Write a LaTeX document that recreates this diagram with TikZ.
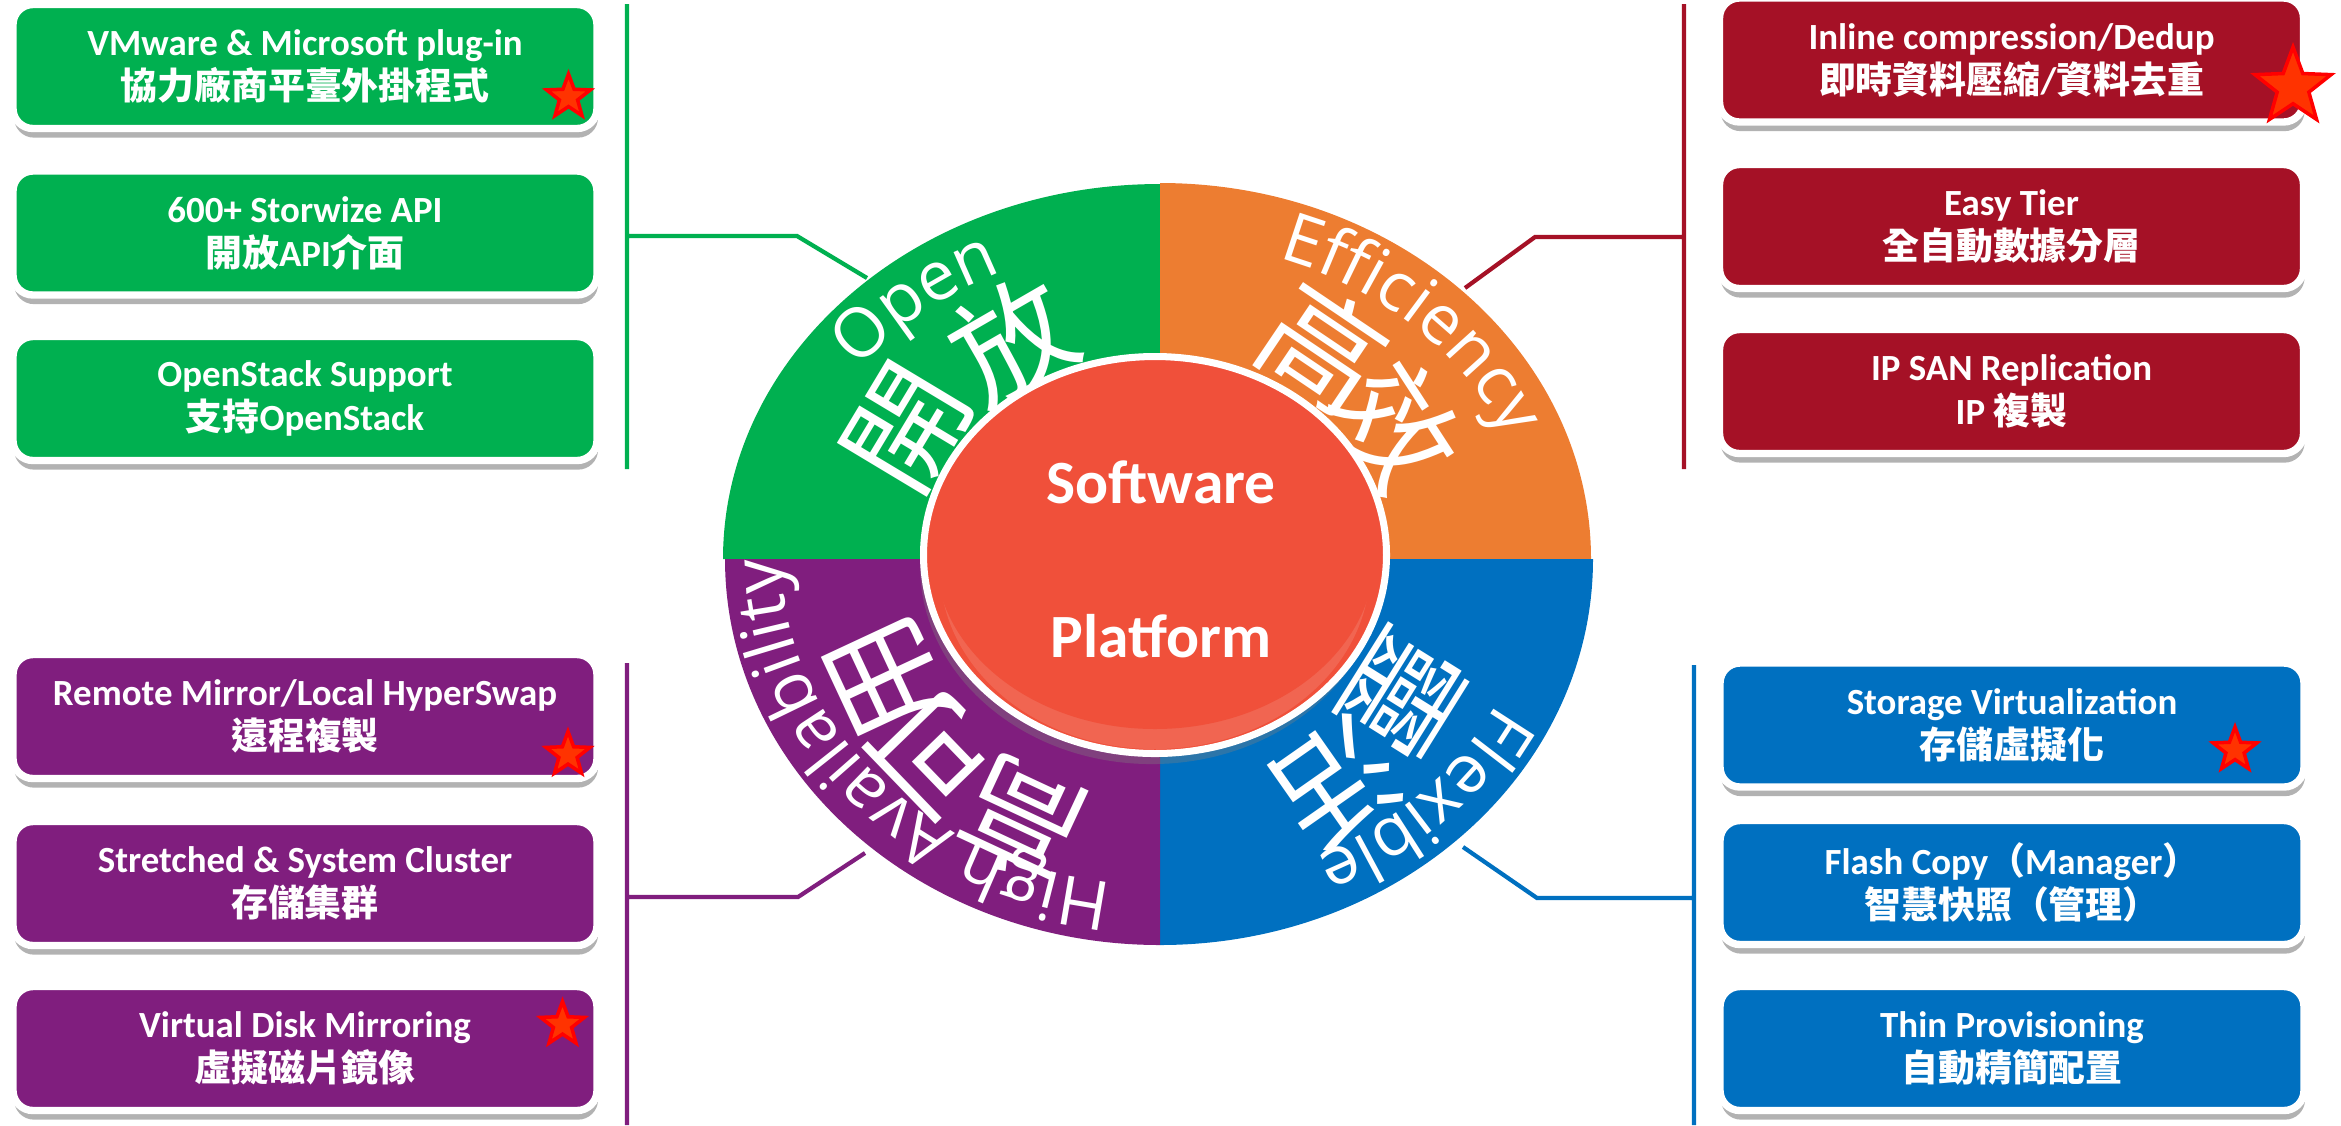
\documentclass[tikz,border=0pt]{standalone}
\usepackage{fontspec}
\setmainfont{Carlito}
\newfontfamily\cjk{Noto Sans CJK TC}
\newfontfamily\ringfont{Open Sans}
\usetikzlibrary{shapes.geometric,shadows,decorations.text}

\definecolor{openc}{RGB}{0,176,80}
\definecolor{effc}{RGB}{237,125,49}
\definecolor{flexc}{RGB}{0,112,192}
\definecolor{hac}{RGB}{128,30,126}
\definecolor{effbox}{RGB}{165,17,38}
\definecolor{corec}{RGB}{240,80,58}
\definecolor{starc}{RGB}{255,51,0}

\def\ringtext{\color{white}\ringfont\fontsize{19.5}{19.5}\selectfont}

\begin{document}
\begin{tikzpicture}
	\tikzstyle{featbox}=[rounded corners=0.2cm, draw=white, line width=2.1pt, minimum width=5.84cm, minimum height=1.24cm, inner sep=0pt, align=center, text=white, font=\fontsize{10.5}{12.5}\selectfont\bfseries, drop shadow={shadow xshift=0.3pt, shadow yshift=-2.6pt, opacity=0.3, fill=black}]
	\tikzstyle{hotstar}=[star, star points=5, star point ratio=2.4, minimum size=0.46cm, inner sep=0pt, fill=starc, draw=red, line width=1pt]
	\tikzstyle{conn}=[line width=1.2pt]
	\tikzstyle{bigchar}=[font=\cjk\fontsize{34}{34}\selectfont, text=white, inner sep=0pt]
	\useasboundingbox (0,0) rectangle (23.41,-11.25);
	
	% brackets and leader lines
	\coordinate (open-top) at (6.27,-0.04);
	\coordinate (open-bot) at (6.27,-4.69);
	\coordinate (open-mid) at (6.27,-2.36);
	\coordinate (open-knee) at (7.97,-2.36);
	\coordinate (open-end) at (8.67,-2.78);
	\coordinate (eff-top) at (16.84,-0.04);
	\coordinate (eff-bot) at (16.84,-4.69);
	\coordinate (eff-mid) at (16.84,-2.37);
	\coordinate (eff-knee) at (15.35,-2.37);
	\coordinate (eff-end) at (14.65,-2.88);
	\coordinate (ha-top) at (6.27,-6.63);
	\coordinate (ha-bot) at (6.27,-11.25);
	\coordinate (ha-mid) at (6.27,-8.97);
	\coordinate (ha-knee) at (7.98,-8.97);
	\coordinate (ha-end) at (8.65,-8.53);
	\coordinate (flex-top) at (16.94,-6.65);
	\coordinate (flex-bot) at (16.94,-11.25);
	\coordinate (flex-mid) at (16.94,-8.98);
	\coordinate (flex-knee) at (15.37,-8.98);
	\coordinate (flex-end) at (14.63,-8.47);
	
	\draw[conn, openc] (open-top) -- (open-bot) (open-mid) -- (open-knee) -- (open-end);
	\draw[conn, effbox] (eff-top) -- (eff-bot) (eff-mid) -- (eff-knee) -- (eff-end);
	\draw[conn, hac] (ha-top) -- (ha-bot) (ha-mid) -- (ha-knee) -- (ha-end);
	\draw[conn, flexc] (flex-top) -- (flex-bot) (flex-mid) -- (flex-knee) -- (flex-end);
	
	% wheel
	\begin{scope}[shift={(11.60,-5.59)}]
		\fill[openc] (0,0) -- (180:4.37cm and 3.75cm) arc[start angle=180, end angle=90, x radius=4.37cm, y radius=3.75cm] -- cycle;
		\fill[effc] (0,0) -- (90:4.31cm and 3.76cm) arc[start angle=90, end angle=0, x radius=4.31cm, y radius=3.76cm] -- cycle;
		\fill[flexc] (0,0) -- (0:4.33cm and 3.86cm) arc[start angle=0, end angle=-90, x radius=4.33cm, y radius=3.86cm] -- cycle;
		\fill[hac] (0,0) -- (-90:4.35cm and 3.86cm) arc[start angle=-90, end angle=-180, x radius=4.35cm, y radius=3.86cm] -- cycle;
		
		\path[decorate, decoration={text along path, text align=center, text={|\ringtext|Open}}] (176:3.78cm and 3.16cm) arc[start angle=176, end angle=86, x radius=3.78cm, y radius=3.16cm];
		\path[decorate, decoration={text along path, text align=center, text={|\ringtext|Efficiency}}] (95:3.74cm and 3.17cm) arc[start angle=95, end angle=-5, x radius=3.74cm, y radius=3.17cm];
		\path[decorate, decoration={text along path, text align=center, text={|\ringtext|Flexible}}] (6:3.76cm and 3.26cm) arc[start angle=6, end angle=-94, x radius=3.76cm, y radius=3.26cm];
		\path[decorate, decoration={text along path, text align=center, text={|\ringtext|High Availability}}] (-80:3.78cm and 3.26cm) arc[start angle=-80, end angle=-200, x radius=3.78cm, y radius=3.26cm];
		
		\node[bigchar, rotate=59](open-a) at (149:2.95cm and 2.54cm) {開};
		\node[bigchar, rotate=30](open-b) at (120:2.94cm and 2.53cm) {放};
		\node[bigchar, rotate=-34](eff-a) at (56:2.92cm and 2.56cm) {高};
		\node[bigchar, rotate=-57](eff-b) at (33:2.83cm and 2.45cm) {效};
		\node[bigchar, rotate=-122](flex-a) at (-32:2.87cm and 2.54cm) {靈};
		\node[bigchar, rotate=-145](flex-b) at (-55:3.08cm and 2.73cm) {活};
		\node[bigchar, rotate=-205](ha-a) at (-115:3.26cm and 2.89cm) {高};
		\node[bigchar, rotate=-226](ha-b) at (-136:3.13cm and 2.77cm) {可};
		\node[bigchar, rotate=-245](ha-c) at (-154:3.04cm and 2.70cm) {用};
		
		\node[ellipse, minimum width=4.63cm, minimum height=3.97cm, inner sep=0pt, fill=corec, draw=white, line width=2pt, drop shadow={shadow xshift=-1pt, shadow yshift=-3pt, opacity=0.35}](core) at (-0.05,0.04) {};
		\fill[white, opacity=0.12] (-0.05,-0.10) ellipse[x radius=2.15cm, y radius=1.80cm];
		\fill[corec] (-0.05,0.05) ellipse[x radius=2.20cm, y radius=1.75cm];
		\node[font=\fontsize{17.5}{17.5}\selectfont\bfseries, text=white, anchor=base](sw) at (0.01,0.56) {Software};
		\node[font=\fontsize{17.5}{17.5}\selectfont\bfseries, text=white, anchor=base](pf) at (0.01,-0.98) {Platform};
	\end{scope}
	
	% feature boxes
	\node[featbox, fill=openc](open-1) at (3.05,-0.665) {VMware \& Microsoft plug-in\\{\cjk 協力廠商平臺外掛程式}};
	\node[featbox, fill=openc](open-2) at (3.05,-2.33) {600+ Storwize API\\{\cjk 開放}API{\cjk 介面}};
	\node[featbox, fill=openc](open-3) at (3.05,-3.985) {OpenStack Support\\{\cjk 支持}OpenStack};
	
	\node[featbox, fill=effbox](eff-1) at (20.115,-0.60) {Inline compression/Dedup\\{\cjk 即時資料壓縮}/{\cjk 資料去重}};
	\node[featbox, fill=effbox](eff-2) at (20.115,-2.265) {Easy Tier\\{\cjk 全自動數據分層}};
	\node[featbox, fill=effbox](eff-3) at (20.115,-3.915) {IP SAN Replication\\IP {\cjk 複製}};
	
	\node[featbox, fill=hac](ha-1) at (3.05,-7.165) {Remote Mirror/Local HyperSwap\\{\cjk 遠程複製}};
	\node[featbox, fill=hac](ha-2) at (3.05,-8.835) {Stretched \& System Cluster\\{\cjk 存儲集群}};
	\node[featbox, fill=hac](ha-3) at (3.05,-10.485) {Virtual Disk Mirroring\\{\cjk 虛擬磁片鏡像}};
	
	\node[featbox, fill=flexc](flex-1) at (20.12,-7.25) {Storage Virtualization\\{\cjk 存儲虛擬化}};
	\node[featbox, fill=flexc](flex-2) at (20.12,-8.825) {Flash Copy{\cjk （}Manager{\cjk ）}\\{\cjk 智慧快照（管理）}};
	\node[featbox, fill=flexc](flex-3) at (20.12,-10.485) {Thin Provisioning\\{\cjk 自動精簡配置}};
	
	% new feature marks
	\node[hotstar](star-1) at (5.685,-0.97) {};
	\node[hotstar, minimum size=0.80cm](star-2) at (22.93,-0.87) {};
	\node[hotstar](star-3) at (5.68,-7.545) {};
	\node[hotstar](star-4) at (5.625,-10.245) {};
	\node[hotstar](star-5) at (22.35,-7.50) {};
\end{tikzpicture}
\end{document}
